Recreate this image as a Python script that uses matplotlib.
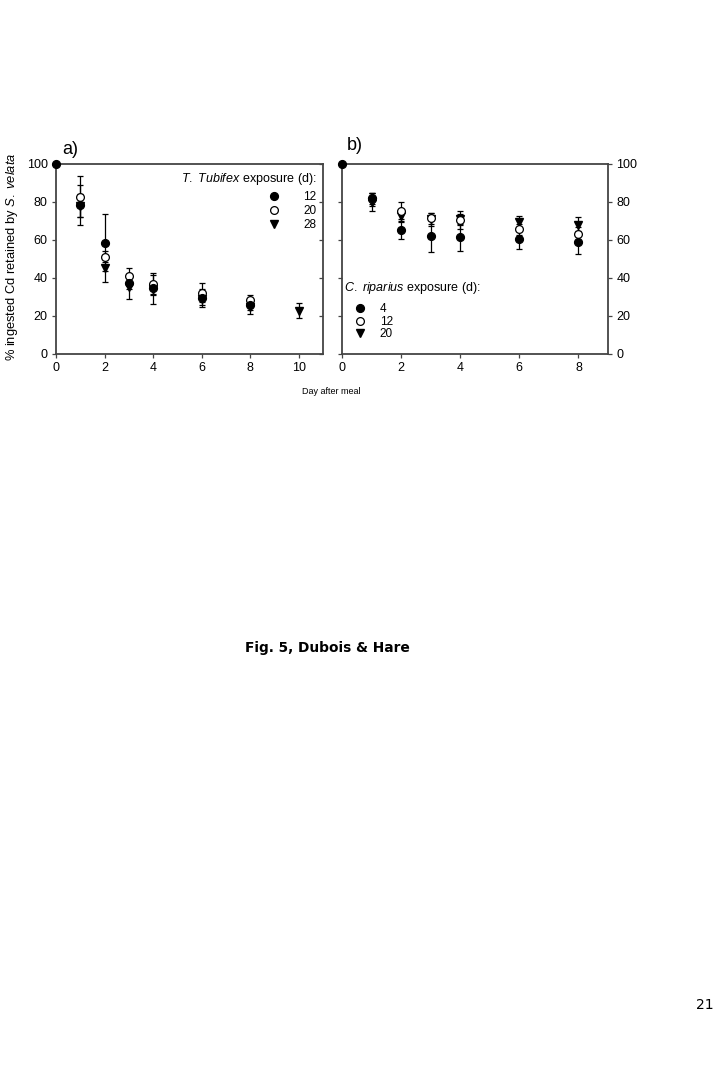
import matplotlib
matplotlib.use('Agg')
import matplotlib.pyplot as plt
from matplotlib.lines import Line2D
import numpy as np

plt.rcParams['font.family'] = ['Liberation Sans', 'DejaVu Sans']
plt.rcParams['mathtext.fontset'] = 'custom'
plt.rcParams['mathtext.rm'] = 'Liberation Sans'
plt.rcParams['mathtext.it'] = 'Liberation Sans:italic'

# panel a) T. tubifex exposure (d): 12, 20, 28
a_days_12 = [0, 1, 2, 3, 4, 6, 8]
a_val_12 = [100, 78.4, 58.6, 37.2, 34.6, 29.3, 26.0]
a_err_12 = [0, 10.5, 15.0, 3.0, 3.0, 4.7, 3.0]

a_days_20 = [1, 2, 3, 4, 6, 8]
a_val_20 = [82.8, 51.2, 41.0, 36.8, 32.3, 28.4]
a_err_20 = [10.9, 3.0, 4.4, 6.0, 4.9, 2.6]

a_days_28 = [1, 2, 3, 4, 6, 8, 10]
a_val_28 = [78.0, 45.1, 35.5, 34.0, 29.0, 25.0, 22.8]
a_err_28 = [6.0, 7.1, 6.7, 7.7, 3.0, 4.1, 4.0]

# panel b) C. riparius exposure (d): 4, 12, 20
b_days_4 = [0, 1, 2, 3, 4, 6, 8]
b_val_4 = [100, 82.0, 65.3, 62.1, 61.4, 60.4, 58.8]
b_err_4 = [0, 3.0, 4.6, 8.6, 7.0, 5.3, 6.2]

b_days_12 = [1, 2, 3, 4, 6, 8]
b_val_12 = [81.4, 75.4, 71.4, 70.5, 65.6, 63.0]
b_err_12 = [3.5, 4.6, 3.0, 4.9, 3.0, 4.0]

b_days_20 = [1, 2, 3, 4, 6, 8]
b_val_20 = [80.0, 72.6, 71.0, 70.8, 69.6, 67.9]
b_err_20 = [4.7, 3.0, 3.4, 3.0, 3.2, 4.0]

a_labels = ['12', '20', '28']
b_labels = ['4', '12', '20']

W, H = 725, 1066
fig = plt.figure(figsize=(W / 100, H / 100), dpi=100)
ax_a = fig.add_axes([56 / W, 1 - 354 / H, 267 / W, 190 / H])
ax_b = fig.add_axes([342 / W, 1 - 354 / H, 266 / W, 190 / H])

spine_col = '#444444'
styles = [dict(marker='o', mfc='black', mec='black', ms=5.6),
          dict(marker='o', mfc='white', mec='black', ms=5.6, mew=0.9),
          dict(marker='v', mfc='black', mec='black', ms=5.4)]


def draw(ax, series):
    for (x, y, e), st in zip(series, styles):
        ax.errorbar(x, y, yerr=e, fmt='none', ecolor='black', elinewidth=0.9,
                    capsize=2.5, capthick=0.9, clip_on=False, zorder=2)
    for (x, y, e), st in reversed(list(zip(series, styles))):
        ax.plot(x, y, ls='none', clip_on=False, zorder=3, **st)
    ax.set_ylim(0, 100)
    ax.set_yticks(np.arange(0, 101, 20))
    for s in ax.spines.values():
        s.set_color(spine_col)
        s.set_linewidth(1.3)
    ax.tick_params(labelsize=9, length=3, width=0.9, color=spine_col, pad=3)


draw(ax_a, [(a_days_12, a_val_12, a_err_12),
            (a_days_20, a_val_20, a_err_20),
            (a_days_28, a_val_28, a_err_28)])
ax_a.set_xlim(0, 11)
ax_a.set_xticks(np.arange(0, 11, 2))
ax_a.tick_params(axis='y', right=True)
for t in ax_a.yaxis.get_major_ticks():
    t.tick2line.set_marker(matplotlib.lines.TICKLEFT)

draw(ax_b, [(b_days_4, b_val_4, b_err_4),
            (b_days_12, b_val_12, b_err_12),
            (b_days_20, b_val_20, b_err_20)])
ax_b.set_xlim(0, 9)
ax_b.set_xticks(np.arange(0, 9, 2))
ax_b.tick_params(axis='y', left=True, right=True, labelleft=False, labelright=True)

handles_a = [Line2D([], [], ls='none', **st) for st in styles]
leg_a = ax_a.legend(handles_a, a_labels, title=r'$\it{T.\ Tubifex}$ exposure (d):',
                    loc='upper right', bbox_to_anchor=(0.985, 0.975), frameon=False,
                    fontsize=8.5, title_fontsize=9, alignment='right',
                    handlelength=1.2, handletextpad=1.9, labelspacing=0.15,
                    borderpad=0.1, borderaxespad=0.1)
leg_a._legend_box.sep = 3

handles_b = [Line2D([], [], ls='none', **st) for st in styles]
leg_b = ax_b.legend(handles_b, b_labels, title=r'$\it{C.\ riparius}$ exposure (d):',
                    loc='lower left', bbox_to_anchor=(0.0, 0.06), frameon=False,
                    fontsize=8.5, title_fontsize=9, alignment='left',
                    handlelength=2.6, handletextpad=0.4, labelspacing=0.05,
                    borderpad=0.1, borderaxespad=0.1)
leg_b._legend_box.sep = 5

fig.text(62 / W, 1 - 150 / H, 'a)', fontsize=13, va='center', ha='left')
fig.text(347 / W, 1 - 146 / H, 'b)', fontsize=13, va='center', ha='left')
fig.text(12 / W, 1 - 257 / H, r'% ingested Cd retained by $\it{S.\ velata}$',
         rotation=90, fontsize=9.3, va='center', ha='center')
fig.text(331 / W, 1 - 392 / H, 'Day after meal', fontsize=6.5, va='center', ha='center')
fig.text(327 / W, 1 - 648 / H, 'Fig. 5, Dubois & Hare', fontsize=9.9,
         fontweight='bold', family='DejaVu Sans', va='center', ha='center')
fig.text(705 / W, 1 - 1005 / H, '21', fontsize=10, family='DejaVu Sans',
         va='center', ha='center')

fig.savefig('out.png', dpi=100)
